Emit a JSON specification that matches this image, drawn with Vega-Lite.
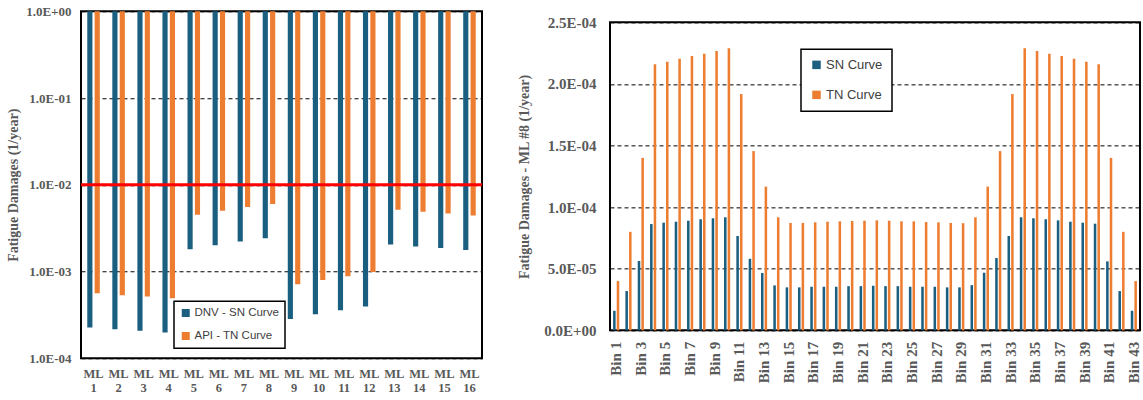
{
  "$schema": "https://vega.github.io/schema/vega-lite/v6.json",
  "background": "white",
  "padding": {"left": 5, "top": 4, "right": 1, "bottom": 0},
  "datasets": {
    "fatigueByLine": [
      {"line": "ML 1", "curve": "DNV - SN Curve", "damage": 0.000226}, {"line": "ML 1", "curve": "API - TN Curve", "damage": 0.00056},
      {"line": "ML 2", "curve": "DNV - SN Curve", "damage": 0.000216}, {"line": "ML 2", "curve": "API - TN Curve", "damage": 0.000533},
      {"line": "ML 3", "curve": "DNV - SN Curve", "damage": 0.000207}, {"line": "ML 3", "curve": "API - TN Curve", "damage": 0.000515},
      {"line": "ML 4", "curve": "DNV - SN Curve", "damage": 0.000198}, {"line": "ML 4", "curve": "API - TN Curve", "damage": 0.000493},
      {"line": "ML 5", "curve": "DNV - SN Curve", "damage": 0.00181}, {"line": "ML 5", "curve": "API - TN Curve", "damage": 0.00451},
      {"line": "ML 6", "curve": "DNV - SN Curve", "damage": 0.00201}, {"line": "ML 6", "curve": "API - TN Curve", "damage": 0.00501},
      {"line": "ML 7", "curve": "DNV - SN Curve", "damage": 0.00222}, {"line": "ML 7", "curve": "API - TN Curve", "damage": 0.00553},
      {"line": "ML 8", "curve": "DNV - SN Curve", "damage": 0.00242}, {"line": "ML 8", "curve": "API - TN Curve", "damage": 0.00598},
      {"line": "ML 9", "curve": "DNV - SN Curve", "damage": 0.000284}, {"line": "ML 9", "curve": "API - TN Curve", "damage": 0.000715},
      {"line": "ML 10", "curve": "DNV - SN Curve", "damage": 0.000322}, {"line": "ML 10", "curve": "API - TN Curve", "damage": 0.0008},
      {"line": "ML 11", "curve": "DNV - SN Curve", "damage": 0.000358}, {"line": "ML 11", "curve": "API - TN Curve", "damage": 0.00088},
      {"line": "ML 12", "curve": "DNV - SN Curve", "damage": 0.000394}, {"line": "ML 12", "curve": "API - TN Curve", "damage": 0.00099},
      {"line": "ML 13", "curve": "DNV - SN Curve", "damage": 0.00205}, {"line": "ML 13", "curve": "API - TN Curve", "damage": 0.00515},
      {"line": "ML 14", "curve": "DNV - SN Curve", "damage": 0.00194}, {"line": "ML 14", "curve": "API - TN Curve", "damage": 0.00489},
      {"line": "ML 15", "curve": "DNV - SN Curve", "damage": 0.00186}, {"line": "ML 15", "curve": "API - TN Curve", "damage": 0.00467},
      {"line": "ML 16", "curve": "DNV - SN Curve", "damage": 0.00177}, {"line": "ML 16", "curve": "API - TN Curve", "damage": 0.00443}
    ],
    "designLimit": [{"damage": 0.01}],
    "fatigueByBin": [
      {"bin": "Bin 1", "curve": "SN Curve", "damage": 1.59e-5}, {"bin": "Bin 1", "curve": "TN Curve", "damage": 4.0e-5},
      {"bin": "Bin 2", "curve": "SN Curve", "damage": 3.19e-5}, {"bin": "Bin 2", "curve": "TN Curve", "damage": 8.0e-5},
      {"bin": "Bin 3", "curve": "SN Curve", "damage": 5.63e-5}, {"bin": "Bin 3", "curve": "TN Curve", "damage": 1.40e-4},
      {"bin": "Bin 4", "curve": "SN Curve", "damage": 8.63e-5}, {"bin": "Bin 4", "curve": "TN Curve", "damage": 2.16e-4},
      {"bin": "Bin 5", "curve": "SN Curve", "damage": 8.74e-5}, {"bin": "Bin 5", "curve": "TN Curve", "damage": 2.18e-4},
      {"bin": "Bin 6", "curve": "SN Curve", "damage": 8.82e-5}, {"bin": "Bin 6", "curve": "TN Curve", "damage": 2.205e-4},
      {"bin": "Bin 7", "curve": "SN Curve", "damage": 8.9e-5}, {"bin": "Bin 7", "curve": "TN Curve", "damage": 2.227e-4},
      {"bin": "Bin 8", "curve": "SN Curve", "damage": 9.02e-5}, {"bin": "Bin 8", "curve": "TN Curve", "damage": 2.245e-4},
      {"bin": "Bin 9", "curve": "SN Curve", "damage": 9.1e-5}, {"bin": "Bin 9", "curve": "TN Curve", "damage": 2.267e-4},
      {"bin": "Bin 10", "curve": "SN Curve", "damage": 9.18e-5}, {"bin": "Bin 10", "curve": "TN Curve", "damage": 2.289e-4},
      {"bin": "Bin 11", "curve": "SN Curve", "damage": 7.66e-5}, {"bin": "Bin 11", "curve": "TN Curve", "damage": 1.918e-4},
      {"bin": "Bin 12", "curve": "SN Curve", "damage": 5.81e-5}, {"bin": "Bin 12", "curve": "TN Curve", "damage": 1.455e-4},
      {"bin": "Bin 13", "curve": "SN Curve", "damage": 4.65e-5}, {"bin": "Bin 13", "curve": "TN Curve", "damage": 1.167e-4},
      {"bin": "Bin 14", "curve": "SN Curve", "damage": 3.65e-5}, {"bin": "Bin 14", "curve": "TN Curve", "damage": 9.18e-5},
      {"bin": "Bin 15", "curve": "SN Curve", "damage": 3.49e-5}, {"bin": "Bin 15", "curve": "TN Curve", "damage": 8.72e-5},
      {"bin": "Bin 16", "curve": "SN Curve", "damage": 3.49e-5}, {"bin": "Bin 16", "curve": "TN Curve", "damage": 8.72e-5},
      {"bin": "Bin 17", "curve": "SN Curve", "damage": 3.54e-5}, {"bin": "Bin 17", "curve": "TN Curve", "damage": 8.77e-5},
      {"bin": "Bin 18", "curve": "SN Curve", "damage": 3.54e-5}, {"bin": "Bin 18", "curve": "TN Curve", "damage": 8.82e-5},
      {"bin": "Bin 19", "curve": "SN Curve", "damage": 3.54e-5}, {"bin": "Bin 19", "curve": "TN Curve", "damage": 8.85e-5},
      {"bin": "Bin 20", "curve": "SN Curve", "damage": 3.59e-5}, {"bin": "Bin 20", "curve": "TN Curve", "damage": 8.88e-5},
      {"bin": "Bin 21", "curve": "SN Curve", "damage": 3.59e-5}, {"bin": "Bin 21", "curve": "TN Curve", "damage": 8.9e-5},
      {"bin": "Bin 22", "curve": "SN Curve", "damage": 3.62e-5}, {"bin": "Bin 22", "curve": "TN Curve", "damage": 8.93e-5},
      {"bin": "Bin 23", "curve": "SN Curve", "damage": 3.59e-5}, {"bin": "Bin 23", "curve": "TN Curve", "damage": 8.9e-5},
      {"bin": "Bin 24", "curve": "SN Curve", "damage": 3.59e-5}, {"bin": "Bin 24", "curve": "TN Curve", "damage": 8.85e-5},
      {"bin": "Bin 25", "curve": "SN Curve", "damage": 3.54e-5}, {"bin": "Bin 25", "curve": "TN Curve", "damage": 8.85e-5},
      {"bin": "Bin 26", "curve": "SN Curve", "damage": 3.54e-5}, {"bin": "Bin 26", "curve": "TN Curve", "damage": 8.79e-5},
      {"bin": "Bin 27", "curve": "SN Curve", "damage": 3.54e-5}, {"bin": "Bin 27", "curve": "TN Curve", "damage": 8.77e-5},
      {"bin": "Bin 28", "curve": "SN Curve", "damage": 3.49e-5}, {"bin": "Bin 28", "curve": "TN Curve", "damage": 8.72e-5},
      {"bin": "Bin 29", "curve": "SN Curve", "damage": 3.49e-5}, {"bin": "Bin 29", "curve": "TN Curve", "damage": 8.7e-5},
      {"bin": "Bin 30", "curve": "SN Curve", "damage": 3.67e-5}, {"bin": "Bin 30", "curve": "TN Curve", "damage": 9.18e-5},
      {"bin": "Bin 31", "curve": "SN Curve", "damage": 4.68e-5}, {"bin": "Bin 31", "curve": "TN Curve", "damage": 1.167e-4},
      {"bin": "Bin 32", "curve": "SN Curve", "damage": 5.87e-5}, {"bin": "Bin 32", "curve": "TN Curve", "damage": 1.455e-4},
      {"bin": "Bin 33", "curve": "SN Curve", "damage": 7.66e-5}, {"bin": "Bin 33", "curve": "TN Curve", "damage": 1.918e-4},
      {"bin": "Bin 34", "curve": "SN Curve", "damage": 9.18e-5}, {"bin": "Bin 34", "curve": "TN Curve", "damage": 2.289e-4},
      {"bin": "Bin 35", "curve": "SN Curve", "damage": 9.1e-5}, {"bin": "Bin 35", "curve": "TN Curve", "damage": 2.267e-4},
      {"bin": "Bin 36", "curve": "SN Curve", "damage": 9.02e-5}, {"bin": "Bin 36", "curve": "TN Curve", "damage": 2.245e-4},
      {"bin": "Bin 37", "curve": "SN Curve", "damage": 8.93e-5}, {"bin": "Bin 37", "curve": "TN Curve", "damage": 2.227e-4},
      {"bin": "Bin 38", "curve": "SN Curve", "damage": 8.82e-5}, {"bin": "Bin 38", "curve": "TN Curve", "damage": 2.205e-4},
      {"bin": "Bin 39", "curve": "SN Curve", "damage": 8.74e-5}, {"bin": "Bin 39", "curve": "TN Curve", "damage": 2.18e-4},
      {"bin": "Bin 40", "curve": "SN Curve", "damage": 8.66e-5}, {"bin": "Bin 40", "curve": "TN Curve", "damage": 2.16e-4},
      {"bin": "Bin 41", "curve": "SN Curve", "damage": 5.6e-5}, {"bin": "Bin 41", "curve": "TN Curve", "damage": 1.40e-4},
      {"bin": "Bin 42", "curve": "SN Curve", "damage": 3.19e-5}, {"bin": "Bin 42", "curve": "TN Curve", "damage": 8.0e-5},
      {"bin": "Bin 43", "curve": "SN Curve", "damage": 1.59e-5}, {"bin": "Bin 43", "curve": "TN Curve", "damage": 4.0e-5}
    ]
  },
  "config": {
    "view": {"stroke": "#000000", "strokeWidth": 2},
    "axis": {
      "labelFont": "Liberation Serif",
      "labelFontWeight": "bold",
      "labelColor": "#595959",
      "titleFont": "Liberation Serif",
      "titleFontWeight": "bold",
      "titleColor": "#595959",
      "ticks": false,
      "domain": false,
      "gridColor": "#000000",
      "gridDash": [4, 3],
      "gridWidth": 1,
      "gridOpacity": 1
    },
    "legend": {
      "symbolType": "square",
      "symbolStrokeWidth": 0,
      "labelFont": "Liberation Sans",
      "labelColor": "#404040",
      "strokeColor": "#000000",
      "fillColor": "#ffffff",
      "labelOffset": 3
    }
  },
  "spacing": 31,
  "center": true,
  "resolve": {
    "scale": {"x": "independent", "y": "independent", "xOffset": "independent", "color": "independent"},
    "legend": {"color": "independent"}
  },
  "hconcat": [
    {
      "width": 401,
      "height": 347,
      "layer": [
        {
          "data": {"name": "fatigueByLine"},
          "mark": {"type": "bar"},
          "encoding": {
            "x": {
              "field": "line", "type": "nominal", "sort": null,
              "scale": {"paddingInner": 0.5, "paddingOuter": 0.25},
              "axis": {"title": null, "labelAngle": 0, "labelExpr": "split(datum.label, ' ')", "labelFontSize": 12.5, "labelLineHeight": 14, "labelPadding": 9, "grid": false}
            },
            "xOffset": {
              "field": "curve", "type": "nominal",
              "scale": {"domain": ["DNV - SN Curve", "API - TN Curve"], "paddingInner": 0.3}
            },
            "y": {
              "field": "damage", "type": "quantitative",
              "scale": {"type": "log", "domain": [0.0001, 1], "nice": false},
              "axis": {
                "title": "Fatigue Damages (1/year)",
                "values": [0.0001, 0.001, 0.01, 0.1, 1],
                "labelExpr": "replace(replace(format(datum.value, '.1e'), 'e-', 'E-0'), 'e+', 'E+0')",
                "labelFontSize": 13, "labelPadding": 10,
                "titleFontSize": 14, "titlePadding": 5,
                "grid": true
              }
            },
            "y2": {"datum": 1},
            "color": {
              "field": "curve", "type": "nominal",
              "scale": {"domain": ["DNV - SN Curve", "API - TN Curve"], "range": ["#1a5e80", "#ed7d31"]},
              "legend": {
                "title": null, "orient": "none", "legendX": 93, "legendY": 290,
                "labelFontSize": 11.5, "symbolSize": 64, "padding": 6, "rowPadding": 10,
                "encode": {"legend": {"update": {"strokeWidth": {"value": 1.5}}}}
              }
            }
          }
        },
        {
          "data": {"name": "designLimit"},
          "mark": {"type": "rule", "color": "#ff0000", "strokeWidth": 3},
          "encoding": {"y": {"field": "damage", "type": "quantitative"}}
        }
      ]
    },
    {
      "width": 530,
      "height": 308,
      "data": {"name": "fatigueByBin"},
      "mark": {"type": "bar"},
      "encoding": {
        "x": {
          "field": "bin", "type": "nominal", "sort": null,
          "scale": {"paddingInner": 0.5, "paddingOuter": 0.25},
          "axis": {
            "title": null, "labelAngle": -90, "labelFontSize": 15, "labelPadding": 11, "grid": false,
            "values": ["Bin 1", "Bin 3", "Bin 5", "Bin 7", "Bin 9", "Bin 11", "Bin 13", "Bin 15", "Bin 17", "Bin 19", "Bin 21", "Bin 23", "Bin 25", "Bin 27", "Bin 29", "Bin 31", "Bin 33", "Bin 35", "Bin 37", "Bin 39", "Bin 41", "Bin 43"]
          }
        },
        "xOffset": {
          "field": "curve", "type": "nominal",
          "scale": {"domain": ["SN Curve", "TN Curve"], "paddingInner": 0.3}
        },
        "y": {
          "field": "damage", "type": "quantitative",
          "scale": {"domain": [0, 0.00025], "nice": false},
          "axis": {
            "title": "Fatigue Damages - ML #8 (1/year)",
            "values": [0, 0.00005, 0.0001, 0.00015, 0.0002, 0.00025],
            "labelExpr": "replace(replace(format(datum.value, '.1e'), 'e-', 'E-0'), 'e+', 'E+0')",
            "labelFontSize": 15, "labelPadding": 14,
            "titleFontSize": 14, "titlePadding": 12,
            "grid": true
          }
        },
        "color": {
          "field": "curve", "type": "nominal",
          "scale": {"domain": ["SN Curve", "TN Curve"], "range": ["#1a5e80", "#ed7d31"]},
          "legend": {
            "title": null, "orient": "none", "legendX": 191, "legendY": 27,
            "labelFontSize": 13, "symbolSize": 72, "padding": 9, "rowPadding": 16,
            "encode": {"legend": {"update": {"strokeWidth": {"value": 1.5}}}}
          }
        }
      }
    }
  ]
}
